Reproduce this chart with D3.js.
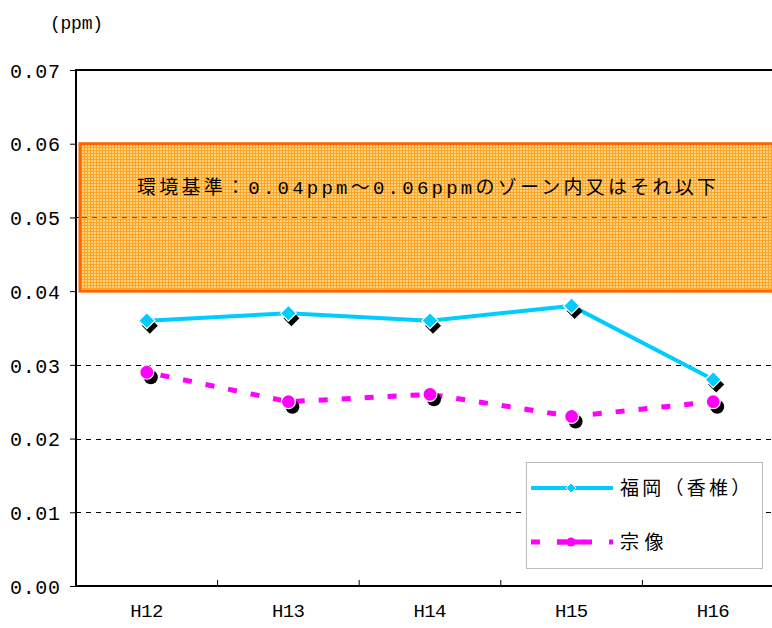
<!DOCTYPE html>
<meta charset="utf-8">
<head>
  <title>ppm chart</title>
</head>
<style>
  body { margin: 0; background: #fff; }
  .jp { font-family: "Liberation Mono", "Noto Sans CJK JP", sans-serif; fill: #000; }
  .cjk { font-family: "Noto Sans CJK JP", sans-serif; fill: #000; }
</style>
<body>
<svg id="chart" width="772" height="628"></svg>
<script src="https://cdnjs.cloudflare.com/ajax/libs/d3/7.8.5/d3.min.js"></script>
<script>
var years = ["H12", "H13", "H14", "H15", "H16"];
var fukuoka = [0.036, 0.037, 0.036, 0.038, 0.028];
var munakata = [0.029, 0.025, 0.026, 0.023, 0.025];
var yTicks = [0, 0.01, 0.02, 0.03, 0.04, 0.05, 0.06, 0.07];
var gridVals = [0.01, 0.02, 0.03, 0.05];
var zone = [0.04, 0.06];
var seriesNames = ["福岡（香椎）", "宗像"];

(function() {
var svg = d3.select("#chart");
var pLeft = 76, pTop = 70, pBottom = 586, pRight = 784;

var x = d3.scaleBand().domain(years).range([pLeft, pRight]);
var y = d3.scaleLinear().domain([0, 0.07]).range([pBottom, pTop]);

// pattern for the zone
var defs = svg.append("defs");
var pat = defs.append("pattern").attr("id", "grid").attr("width", 3).attr("height", 3)
  .attr("patternUnits", "userSpaceOnUse");
pat.append("rect").attr("width", 3).attr("height", 3).attr("fill", "#FFD27F");
pat.append("path").attr("d", "M0,0.5H3M0.5,0V3").attr("stroke", "#FFA526").attr("stroke-width", 1);

// grid lines
svg.selectAll(".gl").data(gridVals).enter().append("line")
  .attr("x1", pLeft).attr("x2", 772)
  .attr("y1", function(d) { return Math.round(y(d)) + 0.5; })
  .attr("y2", function(d) { return Math.round(y(d)) + 0.5; })
  .attr("stroke", "#000").attr("stroke-width", 1).attr("stroke-dasharray", "5,5");

// zone rectangle
svg.append("rect")
  .attr("x", pLeft + 4).attr("y", y(zone[1]))
  .attr("width", 780 - pLeft).attr("height", y(zone[0]) - y(zone[1]))
  .attr("fill", "url(#grid)").attr("stroke", "#FF6600").attr("stroke-width", 3);

// 0.05 line again, over the zone
svg.append("line")
  .attr("x1", pLeft + 6).attr("x2", 772)
  .attr("y1", Math.round(y(0.05)) + 0.5).attr("y2", Math.round(y(0.05)) + 0.5)
  .attr("stroke", "#555").attr("stroke-width", 1).attr("stroke-dasharray", "5,5");

svg.append("text").attr("class", "jp")
  .attr("x", 137).attr("y", 194)
  .attr("font-size", 19).attr("textLength", 579).attr("lengthAdjust", "spacing")
  .text("環境基準：0.04ppm～0.06ppmのゾーン内又はそれ以下");

// axes
var yAxis = d3.axisLeft(y).tickValues(yTicks).tickSize(6).tickFormat(d3.format(".2f"));
var gy = svg.append("g").attr("transform", "translate(" + pLeft + ",0)").call(yAxis);
gy.select(".domain").remove();
gy.selectAll("line").attr("stroke", "#000");
gy.selectAll("text").attr("class", "jp").attr("x", -16).attr("dy", "0.36em")
  .attr("font-size", 20).attr("textLength", 50).attr("lengthAdjust", "spacing")
  .style("font-family", null);

var xAxis = d3.axisBottom(x).tickSize(0);
var gx = svg.append("g").attr("transform", "translate(0," + pBottom + ")").call(xAxis);
gx.select(".domain").remove();
gx.selectAll("text").attr("class", "jp").attr("y", 18).attr("dy", "0.71em")
  .attr("font-size", 19).attr("textLength", 33).attr("lengthAdjust", "spacing")
  .style("font-family", null);

// category boundary ticks
svg.selectAll(".xt").data(years.slice(1)).enter().append("line")
  .attr("x1", function(d) { return x(d); }).attr("x2", function(d) { return x(d); })
  .attr("y1", pBottom - 6).attr("y2", pBottom).attr("stroke", "#000");

svg.append("path")
  .attr("d", "M772," + pTop + "H" + pLeft + "V" + pBottom + "H772")
  .attr("fill", "none").attr("stroke", "#000").attr("stroke-width", 2);

svg.append("text").attr("class", "jp").attr("x", 50).attr("y", 29)
  .attr("font-size", 18).attr("textLength", 53).attr("lengthAdjust", "spacing").text("(ppm)");

var cx = function(d, i) { return x(years[i]) + x.bandwidth() / 2; };

// lines
var line = d3.line().x(function(d, i) { return cx(d, i); }).y(function(d) { return y(d); });
svg.append("path").datum(fukuoka).attr("d", line)
  .attr("fill", "none").attr("stroke", "#00CCFF").attr("stroke-width", 4);
svg.append("path").datum(munakata).attr("d", line)
  .attr("fill", "none").attr("stroke", "#FF00FF").attr("stroke-width", 5)
  .attr("stroke-dasharray", "9,14").attr("stroke-dashoffset", -14);

// markers
var dia = "M0,-8L8,0L0,8L-8,0Z";
svg.selectAll(".fs").data(fukuoka).enter().append("path")
  .attr("d", dia)
  .attr("transform", function(d, i) { return "translate(" + (cx(d, i) + 3) + "," + (y(d) + 5) + ")"; })
  .attr("fill", "#000");
svg.selectAll(".fm").data(fukuoka).enter().append("path")
  .attr("d", dia)
  .attr("transform", function(d, i) { return "translate(" + cx(d, i) + "," + y(d) + ")"; })
  .attr("fill", "#00CCFF").attr("stroke", "#fff").attr("stroke-width", 1.2);

svg.selectAll(".ms").data(munakata).enter().append("circle")
  .attr("cx", function(d, i) { return cx(d, i) + 4; }).attr("cy", function(d) { return y(d) + 5; })
  .attr("r", 7).attr("fill", "#000");
svg.selectAll(".mm").data(munakata).enter().append("circle")
  .attr("cx", function(d, i) { return cx(d, i); }).attr("cy", function(d) { return y(d); })
  .attr("r", 7).attr("fill", "#FF00FF").attr("stroke", "#fff").attr("stroke-width", 1.2);

// legend
var lg = svg.append("g");
lg.append("rect").attr("x", 526.5).attr("y", 462.5).attr("width", 236).attr("height", 106)
  .attr("fill", "#fff").attr("stroke", "#bbb").attr("stroke-width", 1);
lg.append("line").attr("x1", 531).attr("x2", 613).attr("y1", 488).attr("y2", 488)
  .attr("stroke", "#00CCFF").attr("stroke-width", 4);
lg.append("path").attr("d", "M0,-5L5,0L0,5L-5,0Z").attr("transform", "translate(571,488)")
  .attr("fill", "#00CCFF").attr("stroke", "#fff").attr("stroke-width", 1);
lg.append("line").attr("x1", 531).attr("x2", 613).attr("y1", 542).attr("y2", 542)
  .attr("stroke", "#FF00FF").attr("stroke-width", 5).attr("stroke-dasharray", "9,17");
lg.append("line").attr("x1", 557).attr("x2", 585).attr("y1", 542).attr("y2", 542)
  .attr("stroke", "#FF00FF").attr("stroke-width", 5);
lg.append("circle").attr("cx", 571).attr("cy", 542).attr("r", 4.5).attr("fill", "#FF00FF");
lg.selectAll(".lt").data(seriesNames).enter().append("text").attr("class", "cjk")
  .attr("x", 620).attr("y", function(d, i) { return 488 + i * 54; }).attr("dy", "0.36em")
  .attr("font-size", 19).attr("textLength", function(d) { return d.length * 21.7; })
  .attr("lengthAdjust", "spacing").text(function(d) { return d; });
})();
</script>
</body>
